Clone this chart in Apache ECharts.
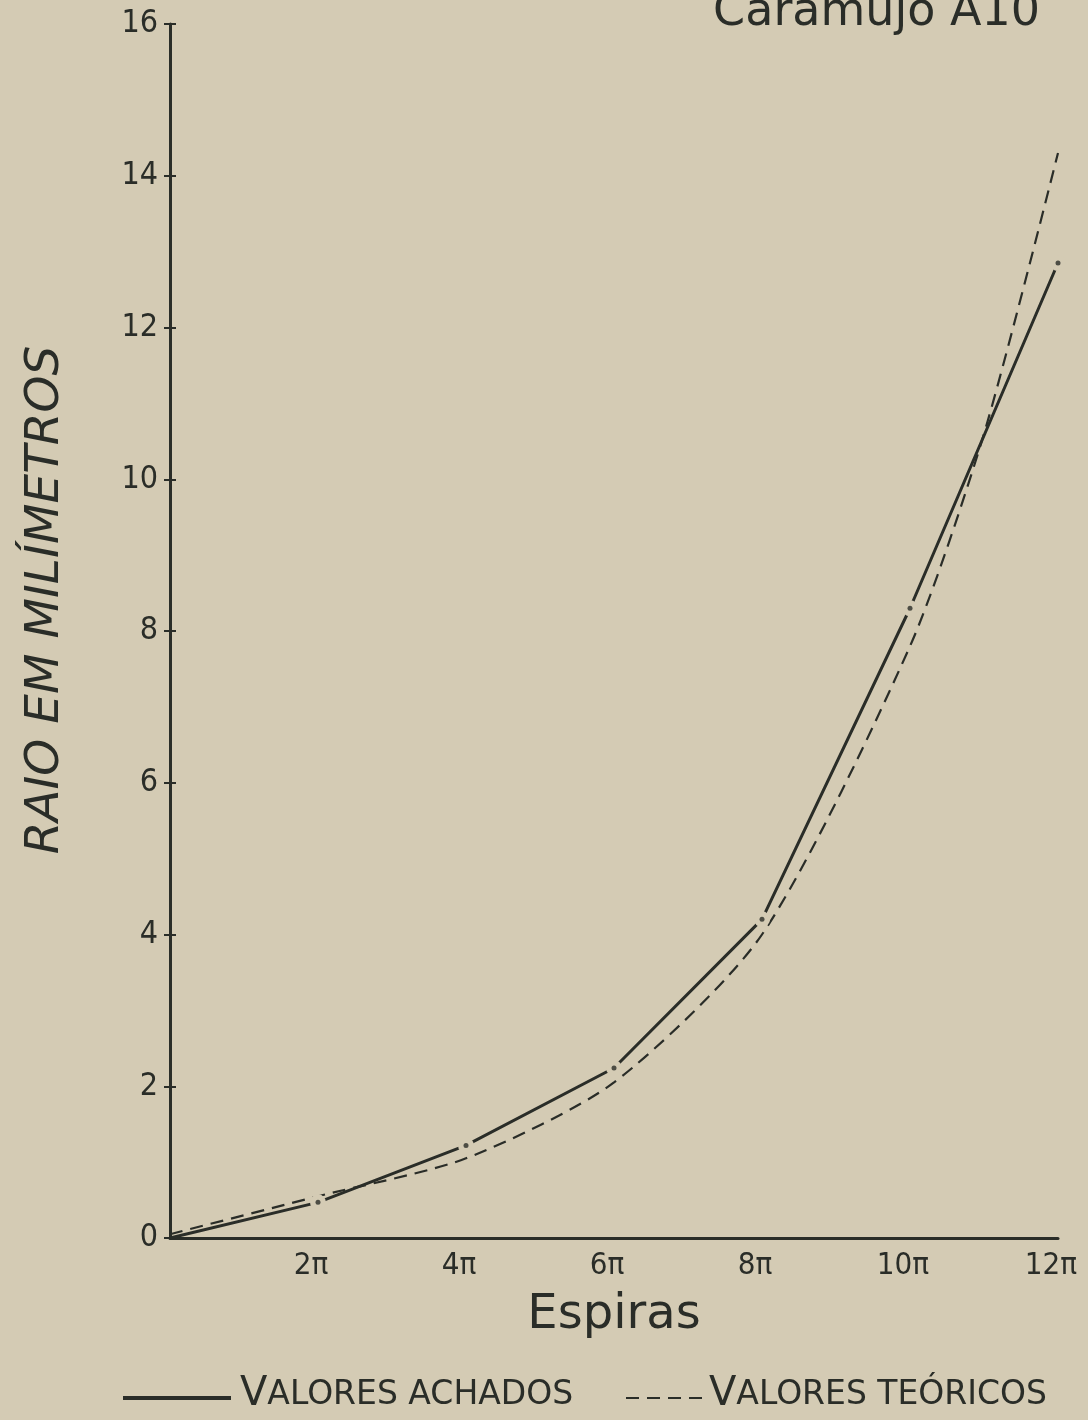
<!DOCTYPE html>
<html>
<head>
<meta charset="utf-8">
<script src="https://cdn.jsdelivr.net/npm/echarts@6/dist/echarts.min.js"></script>
<style>
  html, body { margin: 0; padding: 0; background: #d4cbb4; }
  #chart { width: 1088px; height: 1420px; }
</style>
</head>
<body>
<div id="chart"></div>
<script>
// ---- data (x in units of π) ----
const xTickValues = [0, 2, 4, 6, 8, 10, 12];
const xTickLabels = ['', '2π', '4π', '6π', '8π', '10π', '12π'];
const yTickValues = [0, 2, 4, 6, 8, 10, 12, 14, 16];

const spirasAchados = [0, 2, 4, 6, 8, 10, 12];
const valoresAchados = [0, 0.47, 1.22, 2.24, 4.2, 8.3, 12.85];

const spirasTeoricos = [0, 2, 4, 6, 8, 10, 11, 12];
const valoresTeoricos = [0.05, 0.55, 1.05, 2.05, 4.0, 7.8, 10.6, 14.3];

const titleText = 'Caramujo A10';
const yName = 'RAIO EM MILÍMETROS';
const xName = 'Espiras';
const nameAchados = 'VALORES ACHADOS';
const nameTeoricos = 'VALORES TEÓRICOS';

// ---- styling ----
const BG = '#d4cbb4';
const INK = '#2a2d28';
const NARROW = "'Liberation Sans Narrow', 'DejaVu Sans Condensed', 'DejaVu Sans', sans-serif";
const SANS = "'DejaVu Sans', 'Noto Sans', sans-serif";

const pairs = (xs, ys) => xs.map((x, i) => [x, ys[i]]);

const chart = echarts.init(document.getElementById('chart'), null, { renderer: 'canvas' });

function capsRich(name) {
  return '{b|' + name.charAt(0) + '}{s|' + name.slice(1) + '}';
}
const legendRich = {
  b: { fontFamily: SANS, fontSize: 40, color: INK },
  s: { fontFamily: SANS, fontSize: 33, color: INK }
};

chart.setOption({
  backgroundColor: BG,
  animation: false,
  grid: { left: 170, right: 30, top: 24, bottom: 182, containLabel: false },
  xAxis: {
    type: 'value',
    min: 0, max: 12, interval: 2,
    axisLine: { show: true, lineStyle: { color: INK, width: 3 } },
    axisTick: { show: false },
    splitLine: { show: false },
    axisLabel: {
      color: INK, fontFamily: NARROW, fontSize: 31, margin: 12,
      padding: [0, 14, 0, 0],
      formatter: v => { const i = xTickValues.indexOf(v); return i >= 0 ? xTickLabels[i] : ''; }
    },
    name: xName,
    nameLocation: 'middle',
    nameGap: 54,
    nameTextStyle: { color: INK, fontFamily: SANS, fontSize: 48 }
  },
  yAxis: [{
    type: 'value',
    position: 'left',
    min: 0, max: 16, interval: 2,
    axisLine: { show: true, lineStyle: { color: INK, width: 3 } },
    axisTick: { show: true, length: 6, lineStyle: { color: INK, width: 2 } },
    splitLine: { show: false },
    axisLabel: {
      color: INK, fontFamily: NARROW, fontSize: 32, margin: 12,
      formatter: v => (yTickValues.indexOf(v) >= 0 ? String(v) : '')
    }
  }, {
    type: 'value',
    position: 'left',
    min: 0, max: 16, interval: 2,
    axisLine: { show: false },
    axisTick: { show: true, inside: true, length: 6, lineStyle: { color: INK, width: 2 } },
    splitLine: { show: false },
    axisLabel: { show: false }
  }],
  legend: [{
    left: 118, top: 1370,
    itemWidth: 108, itemHeight: 4, itemGap: 0,
    icon: 'rect',
    itemStyle: { color: INK, borderWidth: 0 },
    data: [{ name: nameAchados }],
    formatter: capsRich,
    textStyle: { rich: legendRich, padding: [0, 0, 6, 4] }
  }, {
    left: 620, top: 1370,
    itemWidth: 76, itemHeight: 4, itemGap: 0,
    itemStyle: { color: INK, borderWidth: 0, opacity: 0 },
    data: [{ name: nameTeoricos }],
    formatter: capsRich,
    textStyle: { rich: legendRich, padding: [0, 0, 6, 2] }
  }],
  graphic: [{
    type: 'text',
    x: 46, y: 600,
    rotation: Math.PI / 2,
    style: {
      text: yName,
      font: 'italic 47px ' + SANS,
      fill: INK,
      align: 'center',
      verticalAlign: 'middle'
    }
  }, {
    type: 'text',
    x: 1040, y: 13,
    style: {
      text: titleText,
      font: '46px ' + SANS,
      fill: INK,
      align: 'right',
      verticalAlign: 'middle'
    }
  }],
  series: [{
    name: nameTeoricos,
    type: 'line',
    data: pairs(spirasTeoricos, valoresTeoricos),
    smooth: 0.25,
    symbol: 'none',
    z: 2,
    lineStyle: { color: INK, width: 2.2, type: [13, 8] },
    itemStyle: { color: INK }
  }, {
    name: nameAchados,
    type: 'line',
    data: pairs(spirasAchados, valoresAchados),
    smooth: false,
    symbol: 'circle',
    symbolSize: (v, p) => (p.dataIndex === 0 ? 0 : 16),
    showAllSymbol: true,
    z: 3,
    lineStyle: { color: INK, width: 3 },
    itemStyle: { color: BG, borderWidth: 0 }
  }, {
    name: 'pontos',
    type: 'scatter',
    data: pairs(spirasAchados, valoresAchados).slice(1),
    symbol: 'circle',
    symbolSize: 5,
    z: 4,
    itemStyle: { color: INK }
  }]
});
</script>
</body>
</html>
